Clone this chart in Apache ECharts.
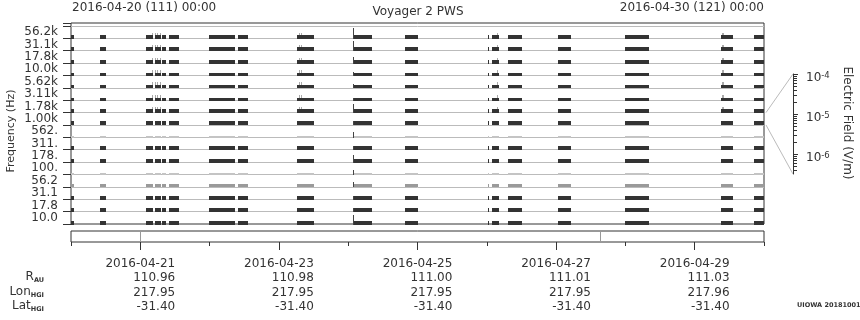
<!DOCTYPE html>
<html><head><meta charset="utf-8">
<script src="https://cdn.jsdelivr.net/npm/echarts@6/dist/echarts.min.js"></script>
<style>html,body{margin:0;padding:0;background:#fff}#c{width:860px;height:320px}</style>
</head><body><div id="c"></div>
<script>
// ---- data ----
const channelLabels = ['56.2k','31.1k','17.8k','10.0k','5.62k','3.11k','1.78k','1.00k','562.','311.','178.','100.','56.2','31.1','17.8','10.0'];
// trace height of each channel (fraction of its band), top to bottom
const channelLevel = [0.32,0.32,0.30,0.24,0.28,0.26,0.32,0.32,0.18,0.32,0.32,0.16,0.28,0.32,0.32,0.36];
// 0 = strong (dark), 1 = weak (faint), 2 = medium
const channelTone = [0,0,0,0,0,0,0,0,1,0,0,1,2,0,0,0];
// data segments, hours after 2016-04-20 00:00
const segStart = [0.0,10.1,26.0,29.0,31.6,34.1,47.9,57.9,78.4,97.8,115.8,144.3,145.7,151.2,168.6,191.8,225.1,236.5];
const segEnd   = [1.0,12.0,28.5,31.1,32.8,37.5,56.9,61.4,84.3,104.3,120.3,144.8,148.2,156.1,173.0,200.1,229.2,240.0];
// burst at the start of the 2016-04-24 segment, height per channel
const spikeHour = 97.8;
const spikeHeight = [0.9,0.8,0.55,0.3,0.3,0.25,0.75,0.35,0.45,0.35,0.65,0.4,0.4,0.3,0.3,0.8];
// small noise marks above the upper channels
const noiseHours = [28.2,29.1,29.9,30.8,79.0,79.8,147.4,225.3,225.9];
const noiseHeight = 0.5;
const noiseChannels = 7;
// markers inside the lower strip (hours)
const stripMarks = [24.0,183.1];
// time axis labels (days after 2016-04-20)
const tickDays = [1,3,5,7,9];
const tickDates = ['2016-04-21','2016-04-23','2016-04-25','2016-04-27','2016-04-29'];
const rAU = ['110.96','110.98','111.00','111.01','111.03'];
const lonHGI = ['217.95','217.95','217.95','217.95','217.96'];
const latHGI = ['-31.40','-31.40','-31.40','-31.40','-31.40'];
const allDays = [0,1,2,3,4,5,6,7,8,9,10];
// electric field scale (log10 V/m)
const fieldMajor = [-6,-5,-4];
const fieldMinor = [-6.39794,-6.30103,-6.22185,-6.15490,-6.09691,-6.04576,
  -5.69897,-5.52288,-5.39794,-5.30103,-5.22185,-5.15490,-5.09691,-5.04576,
  -4.69897,-4.52288,-4.39794,-4.30103,-4.22185,-4.15490,-4.09691,-4.04576];

// ---- build series data ----
const darkData=[], faintData=[], midData=[], spikeData=[], noiseData=[];
channelLabels.forEach((lab, ci) => {
  const base = 15 - ci;
  const tgt = channelTone[ci]===0 ? darkData : (channelTone[ci]===1 ? faintData : midData);
  for (let k=0;k<segStart.length;k++) tgt.push([segStart[k]/24, segEnd[k]/24, base, channelLevel[ci]]);
  spikeData.push([spikeHour/24, spikeHour/24 + 0.3/24, base, spikeHeight[ci]]);
  if (ci < noiseChannels) noiseHours.forEach(h => noiseData.push([h/24, h/24 + 0.2/24, base, noiseHeight]));
});

function rectItem(params, api) {
  const p0 = api.coord([api.value(0), api.value(2)]);
  const p1 = api.coord([api.value(1), api.value(2) + api.value(3)]);
  const x = Math.round(p0[0]);
  const x2 = Math.max(Math.round(p1[0]), x + 1);
  const yb = Math.floor(p0[1]) + 1;
  const hpx = Math.max(1, Math.round(p0[1] - p1[1]));
  return {type:'rect', shape:{x:x, y:yb-hpx, width:x2-x, height:hpx}, style:{fill: api.visual('color')}};
}
function stripLine(params, api) {
  const a = api.coord([api.value(0), 0]);
  const b = api.coord([api.value(0), 1]);
  const x = Math.round(a[0]) + 0.5;
  return {type:'line', shape:{x1:x, y1:a[1], x2:x, y2:b[1]}, style:{stroke:'#999', lineWidth:1}};
}

const FONT = 'DejaVu Sans';
const TXT = '#333';
const L = 71, R = 96;

const chart = echarts.init(document.getElementById('c'), null, {renderer:'canvas', width:860, height:320});
const option = {
  animation: false,
  backgroundColor: '#fff',
  textStyle: {fontFamily: FONT, color: TXT},
  grid: [
    {left:L, right:R, top:23, height:201, show:true, borderColor:'#333', borderWidth:1, backgroundColor:'transparent'},
    {left:L, right:R, top:26, height:198, show:false},
    {left:L, right:R, top:231, height:11, show:true, borderColor:'#333', borderWidth:1, backgroundColor:'transparent'},
    {left:793, right:66, top:74, height:100, show:false}
  ],
  xAxis: [
    {gridIndex:0, type:'value', min:0, max:10, show:false},
    {gridIndex:1, type:'value', min:0, max:10, show:false},
    {gridIndex:2, type:'value', min:0, max:10, position:'bottom', offset:0,
      axisLine:{show:false}, splitLine:{show:false},
      axisTick:{show:true, customValues:tickDays, length:8, lineStyle:{color:'#333'}},
      axisLabel:{show:true, customValues:tickDays, margin:14.5, color:TXT, fontFamily:FONT, fontSize:12, lineHeight:14.4,
        formatter: v => { const i = tickDays.indexOf(Math.round(v)); if (i<0) return '';
          return '{d|'+tickDates[i]+'}\n{v|'+rAU[i]+'}\n{v|'+lonHGI[i]+'}\n{v|'+latHGI[i]+'}'; },
        rich:{d:{fontSize:12, lineHeight:14.4, align:'right', fontFamily:FONT, color:TXT},
              v:{fontSize:12, lineHeight:14.4, align:'right', fontFamily:FONT, color:TXT}}}},
    {gridIndex:2, type:'value', min:0, max:10, position:'bottom', offset:0,
      axisLine:{show:false}, splitLine:{show:false}, axisLabel:{show:false},
      axisTick:{show:true, customValues:allDays, length:4, lineStyle:{color:'#333'}}},
    {gridIndex:3, type:'value', min:0, max:1, show:false}
  ],
  yAxis: [
    {gridIndex:0, type:'value', min:0, max:16.24, interval:1,
      axisLine:{show:false}, axisLabel:{show:false},
      axisTick:{show:true, length:8, lineStyle:{color:'#333'}},
      splitLine:{show:true, showMinLine:false, showMaxLine:false, lineStyle:{color:'#bbb', width:1}}},
    {gridIndex:1, type:'category', data:channelLabels, inverse:true,
      axisLine:{show:false}, axisTick:{show:false}, splitLine:{show:false},
      axisLabel:{interval:0, margin:13, color:TXT, fontFamily:FONT, fontSize:12}},
    {gridIndex:2, type:'value', min:0, max:1, show:false},
    {gridIndex:3, type:'value', min:-6.5, max:-4, position:'right', offset:0,
      axisLine:{show:true, lineStyle:{color:'#333'}}, splitLine:{show:false},
      axisTick:{show:true, customValues:fieldMajor, length:5, lineStyle:{color:'#333'}},
      axisLabel:{show:true, customValues:fieldMajor, margin:12, color:TXT, fontFamily:FONT,
        formatter: v => '{b|10}{s|' + Math.round(v) + '}',
        rich:{b:{fontSize:12, fontFamily:FONT, color:TXT, verticalAlign:'middle', padding:[8,0,0,0], lineHeight:12},
              s:{fontSize:8.5, fontFamily:FONT, color:TXT, verticalAlign:'top', padding:[4,0,0,0]}}}},
    {gridIndex:3, type:'value', min:-6.5, max:-4, position:'right', offset:0,
      axisLine:{show:false}, splitLine:{show:false}, axisLabel:{show:false},
      axisTick:{show:true, customValues:fieldMinor, length:3, lineStyle:{color:'#333'}}}
  ],
  series: [
    {type:'custom', xAxisIndex:0, yAxisIndex:0, renderItem:rectItem, data:faintData, itemStyle:{color:'#c4c4c4'}, encode:{x:[0,1], y:2}, silent:true},
    {type:'custom', xAxisIndex:0, yAxisIndex:0, renderItem:rectItem, data:midData, itemStyle:{color:'#9a9a9a'}, encode:{x:[0,1], y:2}, silent:true},
    {type:'custom', xAxisIndex:0, yAxisIndex:0, renderItem:rectItem, data:noiseData, itemStyle:{color:'#aaa'}, encode:{x:[0,1], y:2}, silent:true},
    {type:'custom', xAxisIndex:0, yAxisIndex:0, renderItem:rectItem, data:darkData, itemStyle:{color:'#333'}, encode:{x:[0,1], y:2}, silent:true},
    {type:'custom', xAxisIndex:0, yAxisIndex:0, renderItem:rectItem, data:spikeData, itemStyle:{color:'#444'}, encode:{x:[0,1], y:2}, silent:true},
    {type:'custom', xAxisIndex:2, yAxisIndex:2, renderItem:stripLine, data:stripMarks.map(h => [h/24]), encode:{x:0}, silent:true}
  ],
  graphic: [
    {type:'text', x:72, y:8, style:{text:'2016-04-20 (111) 00:00', fontFamily:FONT, fontSize:12, fill:TXT, textAlign:'left', textVerticalAlign:'middle'}},
    {type:'text', x:764, y:8, style:{text:'2016-04-30 (121) 00:00', fontFamily:FONT, fontSize:12, fill:TXT, textAlign:'right', textVerticalAlign:'middle'}},
    {type:'text', x:418, y:12, style:{text:'Voyager 2 PWS', fontFamily:FONT, fontSize:12, fill:TXT, textAlign:'center', textVerticalAlign:'middle'}},
    {type:'text', x:11, y:131, rotation:Math.PI/2, style:{text:'Frequency (Hz)', fontFamily:FONT, fontSize:11, fill:TXT, textAlign:'center', textVerticalAlign:'middle'}},
    {type:'text', x:847, y:123, rotation:-Math.PI/2, style:{text:'Electric Field (V/m)', fontFamily:FONT, fontSize:12, fill:TXT, textAlign:'center', textVerticalAlign:'middle'}},
    {type:'text', x:44, y:277, style:{text:'{m|R}{s|AU}', textAlign:'right', textVerticalAlign:'middle',
      rich:{m:{fontSize:12, fontFamily:FONT, fill:TXT, lineHeight:14}, s:{fontSize:6.5, fontWeight:'bold', fontFamily:FONT, fill:TXT, lineHeight:8, verticalAlign:'bottom'}}}},
    {type:'text', x:44, y:291.4, style:{text:'{m|Lon}{s|HGI}', textAlign:'right', textVerticalAlign:'middle',
      rich:{m:{fontSize:12, fontFamily:FONT, fill:TXT, lineHeight:14}, s:{fontSize:6.5, fontWeight:'bold', fontFamily:FONT, fill:TXT, lineHeight:8, verticalAlign:'bottom'}}}},
    {type:'text', x:44, y:305.8, style:{text:'{m|Lat}{s|HGI}', textAlign:'right', textVerticalAlign:'middle',
      rich:{m:{fontSize:12, fontFamily:FONT, fill:TXT, lineHeight:14}, s:{fontSize:6.5, fontWeight:'bold', fontFamily:FONT, fill:TXT, lineHeight:8, verticalAlign:'bottom'}}}},
    {type:'text', x:797, y:305, style:{text:'UIOWA 20181001', fontFamily:FONT, fontSize:6.5, fontWeight:'bold', fill:TXT, textAlign:'left', textVerticalAlign:'middle'}}
  ]
};
chart.setOption(option);

// connector lines from the 1.00k channel band to the field scale
const pTop = chart.convertToPixel({xAxisIndex:0, yAxisIndex:0}, [10, 9]);
const pBot = chart.convertToPixel({xAxisIndex:0, yAxisIndex:0}, [10, 8]);
const cTop = chart.convertToPixel({xAxisIndex:4, yAxisIndex:3}, [0, -4]);
const cBot = chart.convertToPixel({xAxisIndex:4, yAxisIndex:3}, [0, -6.5]);
const ax = cTop[0];
option.graphic.push(
  {type:'line', shape:{x1:pTop[0]+2, y1:pTop[1], x2:ax, y2:cTop[1]}, style:{stroke:'#bbb', lineWidth:1}},
  {type:'line', shape:{x1:pBot[0]+2, y1:pBot[1], x2:ax, y2:cBot[1]}, style:{stroke:'#bbb', lineWidth:1}}
);
chart.setOption({graphic: option.graphic});
</script>
</body></html>
